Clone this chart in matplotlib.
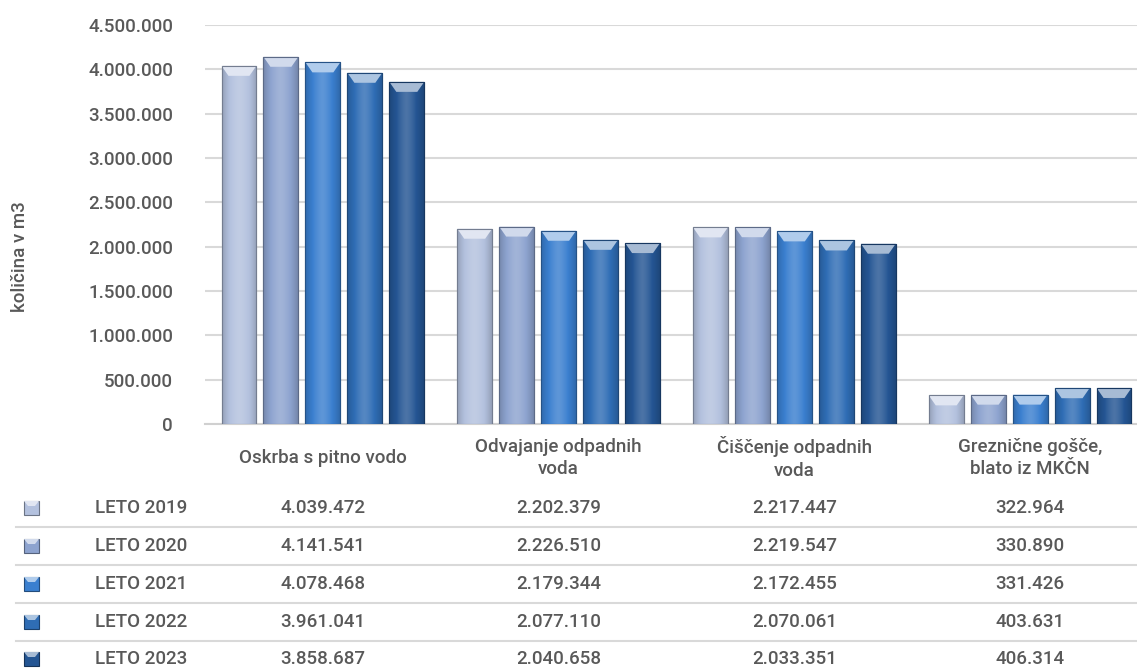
import numpy as np
import matplotlib.pyplot as plt
import matplotlib.colors as mcolors
from matplotlib.patches import Polygon, Rectangle
from matplotlib.lines import Line2D
from matplotlib.ticker import FuncFormatter

plt.rcParams['font.family'] = ['Roboto', 'DejaVu Sans']
plt.rcParams['font.weight'] = 'medium'

categories = ["Oskrba s pitno vodo", "Odvajanje odpadnih\nvoda",
              "Čiščenje odpadnih\nvoda", "Greznične gošče,\nblato iz MKČN"]
series_names = ["LETO 2019", "LETO 2020", "LETO 2021", "LETO 2022", "LETO 2023"]
leto_2019 = [4039472, 2202379, 2217447, 322964]
leto_2020 = [4141541, 2226510, 2219547, 330890]
leto_2021 = [4078468, 2179344, 2172455, 331426]
leto_2022 = [3961041, 2077110, 2070061, 403631]
leto_2023 = [3858687, 2040658, 2033351, 406314]
series = [leto_2019, leto_2020, leto_2021, leto_2022, leto_2023]
bar_colors = ["#b3c1de", "#8da3cf", "#3a7fcf", "#2f6db5", "#245593"]
y_ticks = np.arange(0, 4500001, 500000)

TXT = "#595959"
W, H = 1137, 668


def fmt(v):
    return f"{int(v):,}".replace(",", ".")


def shade(c, f):
    r = np.array(mcolors.to_rgb(c))
    if f >= 0:
        return tuple(r + (1 - r) * f)
    return tuple(r * (1 + f))


fig = plt.figure(figsize=(W / 100, H / 100), dpi=100)
ax = fig.add_axes([205 / W, 1 - 424 / H, (1148 - 205) / W, (424 - 25) / H])

x = np.arange(len(categories))
bw = 0.148
step = 0.178
ax.set_xlim(-0.5, len(categories) - 0.5)
ax.set_ylim(0, 4500000)
# data units per pixel on y, used for the bevel on top of each bar
px_y = 4500000 / 399

for i, (vals, col) in enumerate(zip(series, bar_colors)):
    xs = x + (i - 2) * step
    bars = ax.bar(xs, vals, width=bw, color=col, edgecolor=shade(col, -0.3),
                  linewidth=0.8, zorder=3)
    prof = np.linspace(-1, 1, 64)
    lv = 0.18 - 0.42 * np.abs(prof) ** 1.5
    grad = np.array([shade(col, f) if f >= 0 else shade(col, f * 0.7) for f in lv])
    for b, v in zip(bars, vals):
        x0 = b.get_x()
        im = ax.imshow(grad[None, :, :], extent=[x0, x0 + bw, 0, v], aspect='auto',
                       zorder=3.5, interpolation='bilinear')
        im.set_clip_path(b)
        bh = min(10 * px_y, v * 0.45)
        top = Polygon([[x0, v], [x0 + bw, v], [x0 + bw * 0.8, v - bh], [x0 + bw * 0.2, v - bh]],
                      closed=True, facecolor=shade(col, 0.6), edgecolor='none', zorder=4)
        ax.add_patch(top)
        ax.add_patch(Rectangle((x0, 0), bw, v, fill=False, edgecolor=shade(col, -0.35),
                               linewidth=0.8, zorder=4.5))

ax.set_yticks(y_ticks)
ax.yaxis.set_major_formatter(FuncFormatter(lambda v, p: fmt(v)))
ax.tick_params(axis='y', length=0, pad=23, labelsize=13.5, labelcolor=TXT)
ax.set_xticks([])
ax.grid(axis='y', color="#d9d9d9", linewidth=1.5, zorder=0)
ax.set_axisbelow(True)
for s in ['top', 'right', 'left']:
    ax.spines[s].set_visible(False)
ax.spines['bottom'].set_color("#d0d0d0")
ax.spines['bottom'].set_linewidth(1.5)

fig.text(20 / W, 1 - 257 / H, "količina v m3", rotation=90, ha='center', va='center',
         fontsize=13.5, color=TXT)

# category labels and data table, positioned on the category centres
to_fig = lambda xd: fig.transFigure.inverted().transform(ax.transData.transform((xd, 0)))[0]
for ci, cat in enumerate(categories):
    fig.text(to_fig(ci), 1 - 458 / H, cat, ha='center', va='center', fontsize=13.5,
             color=TXT, linespacing=1.3)

row_y = [508, 546, 584, 622, 659]
for ri, (name, vals, col) in enumerate(zip(series_names, series, bar_colors)):
    yy = 1 - row_y[ri] / H
    fig.patches.append(Rectangle((24 / W, yy - 7 / H), 15 / W, 14 / H, transform=fig.transFigure,
                                 facecolor=col, edgecolor=shade(col, -0.4), linewidth=0.8))
    fig.patches.append(Polygon([[24 / W, yy + 7 / H], [39 / W, yy + 7 / H], [35 / W, yy + 2 / H],
                                [28 / W, yy + 2 / H]], closed=True, transform=fig.transFigure,
                               facecolor=shade(col, 0.6), edgecolor='none'))
    fig.text(95 / W, yy, name, ha='left', va='center', fontsize=13.5, color=TXT)
    for ci, v in enumerate(vals):
        fig.text(to_fig(ci), yy, fmt(v), ha='center', va='center', fontsize=13.5, color=TXT)
    if ri < len(series_names) - 1:
        ly = 1 - (row_y[ri] + row_y[ri + 1]) / 2 / H
        fig.lines.append(Line2D([16 / W, 1], [ly, ly], transform=fig.transFigure,
                                color="#d9d9d9", linewidth=1.5))

fig.savefig("out.png", dpi=100)
